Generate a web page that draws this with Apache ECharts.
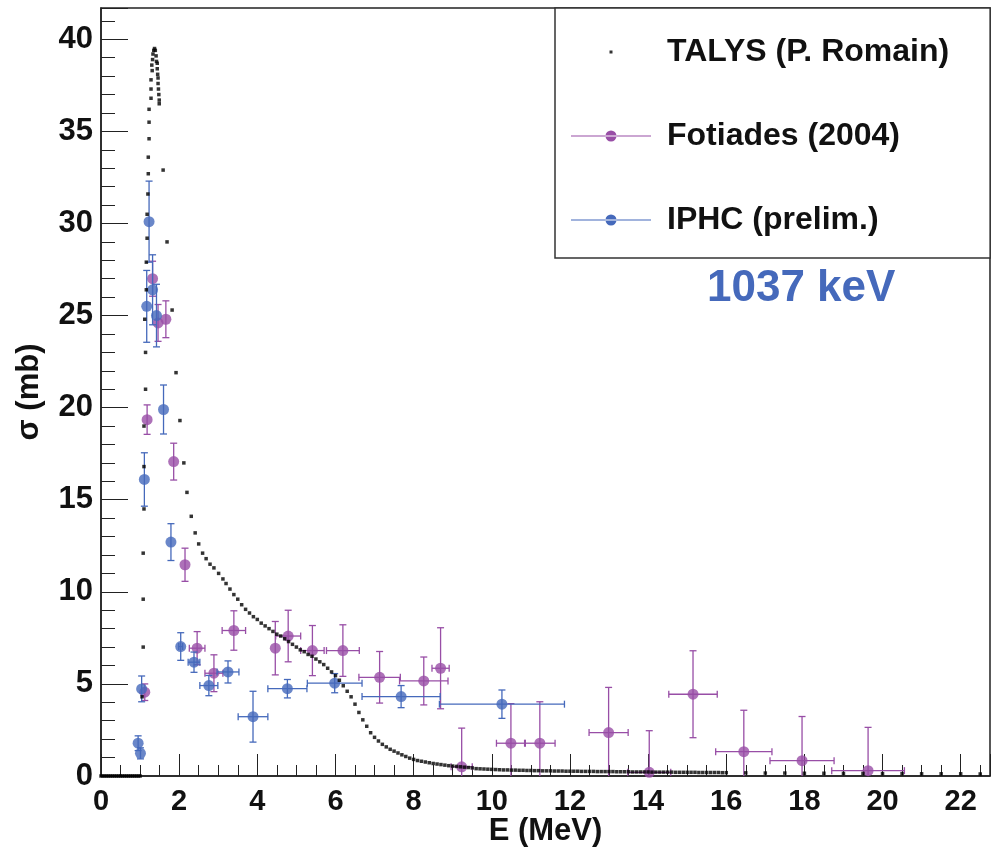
<!DOCTYPE html>
<html lang="en">

<head>
    <meta charset="UTF-8">
    <title>1037 keV</title>
    <style>
        body,
        html {
            margin: 0;
            height: 100%;
            overflow: hidden;
            background: #fff;
        }

        #main {
            width: 991px;
            height: 848px;
        }
    </style>
</head>

<body>
    <div id="main"></div>
    <script src="https://cdn.jsdelivr.net/npm/echarts@6/dist/echarts.min.js"></script>
    <script type="text/javascript">
        // TALYS (P. Romain): [E (MeV), sigma (mb)]
        const talysLow = [
            [0, 0], [0.05, 0], [0.1, 0], [0.15, 0], [0.2, 0], [0.25, 0], [0.3, 0], [0.35, 0], [0.4, 0], [0.45, 0],
            [0.5, 0], [0.55, 0], [0.6, 0], [0.65, 0], [0.7, 0], [0.75, 0], [0.8, 0], [0.85, 0], [0.9, 0], [0.95, 0], [1.0, 0]
        ]
        const talysPeak = [
            [1.05, 4.3], [1.08, 7.0], [1.08, 9.6], [1.08, 12.1], [1.10, 14.5], [1.10, 16.8], [1.10, 19.0], [1.14, 21.0],
            [1.14, 23.0], [1.12, 24.8], [1.16, 26.4], [1.16, 27.9], [1.18, 29.2], [1.18, 30.5], [1.20, 31.6], [1.21, 32.7],
            [1.21, 33.6], [1.23, 34.6], [1.23, 35.5], [1.23, 36.2], [1.28, 36.8], [1.28, 37.3], [1.28, 37.8], [1.31, 38.3],
            [1.30, 38.6], [1.32, 38.9], [1.33, 39.2], [1.35, 39.4], [1.37, 39.5], [1.39, 39.4], [1.41, 39.1], [1.42, 38.8],
            [1.44, 38.7], [1.44, 38.4], [1.45, 38.1], [1.46, 37.9], [1.46, 37.6], [1.47, 37.3], [1.48, 37.0], [1.49, 36.7],
            [1.49, 36.5], [1.59, 32.9], [1.69, 29.0], [1.82, 25.3], [1.92, 21.9], [2.02, 19.3], [2.12, 17.0], [2.20, 15.4],
            [2.31, 14.1], [2.41, 13.2], [2.50, 12.6], [2.60, 12.1], [2.69, 11.8], [2.79, 11.5], [2.89, 11.3], [3.01, 11.0],
            [3.12, 10.7]
        ]
        const talysFall = [
            [3.2, 10.45], [3.3, 10.15], [3.4, 9.85], [3.5, 9.6], [3.6, 9.3], [3.7, 9.05], [3.8, 8.85], [3.9, 8.65],
            [4.0, 8.5], [4.1, 8.3], [4.2, 8.15], [4.3, 8.0], [4.4, 7.85], [4.5, 7.7], [4.6, 7.6], [4.7, 7.45],
            [4.8, 7.3], [4.9, 7.15], [5.0, 7.0], [5.1, 6.85], [5.2, 6.75], [5.3, 6.6], [5.4, 6.5], [5.5, 6.35],
            [5.6, 6.2], [5.7, 6.05], [5.8, 5.85], [5.9, 5.65], [6.0, 5.45], [6.1, 5.2], [6.2, 4.9], [6.3, 4.6],
            [6.4, 4.3], [6.5, 3.9], [6.6, 3.45], [6.7, 3.05], [6.8, 2.7], [6.9, 2.35], [7.0, 2.1], [7.1, 1.9],
            [7.2, 1.72], [7.3, 1.58], [7.4, 1.45], [7.5, 1.35], [7.6, 1.25], [7.7, 1.15], [7.8, 1.06], [7.9, 0.97],
            [8.0, 0.9], [8.1, 0.84], [8.2, 0.8], [8.3, 0.76], [8.4, 0.72], [8.5, 0.68], [8.6, 0.65], [8.7, 0.62],
            [8.8, 0.59], [8.9, 0.56], [9.0, 0.54], [9.1, 0.52], [9.2, 0.5], [9.3, 0.48], [9.4, 0.46], [9.5, 0.44]
        ]
        const talysFlat = [
            [9.6, .40], [9.7, .39], [9.8, .38], [9.9, .37], [10.0, .36], [10.1, .35], [10.2, .34], [10.3, .33],
            [10.4, .33], [10.5, .32], [10.6, .32], [10.7, .31], [10.8, .31], [10.9, .30], [11.0, .30], [11.1, .29],
            [11.2, .29], [11.3, .28], [11.4, .28], [11.5, .28], [11.6, .27], [11.7, .27], [11.8, .27], [11.9, .26],
            [12.0, .26], [12.1, .26], [12.2, .26], [12.3, .25], [12.4, .25], [12.5, .25], [12.6, .25], [12.7, .24],
            [12.8, .24], [12.9, .24], [13.0, .24], [13.1, .24], [13.2, .23], [13.3, .23], [13.4, .23], [13.5, .23],
            [13.6, .22], [13.7, .22], [13.8, .22], [13.9, .22], [14.0, .22], [14.1, .21], [14.2, .21], [14.3, .21],
            [14.4, .21], [14.5, .21], [14.6, .21], [14.7, .20], [14.8, .20], [14.9, .20], [15.0, .20], [15.1, .20],
            [15.2, .20], [15.3, .19], [15.4, .19], [15.5, .19], [15.6, .19], [15.7, .19], [15.8, .19], [15.9, .18],
            [16.0, .18]
        ]
        const talysTail = [
            [16.5, .17], [17.0, .16], [17.5, .16], [18.0, .15], [18.5, .15], [19.0, .14], [19.5, .14],
            [20.0, .13], [20.5, .13], [21.0, .12], [21.5, .12], [22.0, .12], [22.5, .11]
        ]

        // Fotiades (2004)
        const fotE = [1.12, 1.18, 1.32, 1.46, 1.66, 1.86, 2.15, 2.46, 2.89, 3.40, 4.46, 4.79, 5.41, 6.19, 7.13, 8.26, 8.69, 9.23, 10.49, 11.23, 12.99, 14.03, 15.15, 16.45, 17.94, 19.63]
        const fotSig = [4.55, 19.35, 27.0, 24.6, 24.8, 17.07, 11.47, 6.94, 5.58, 7.9, 6.94, 7.6, 6.81, 6.81, 5.36, 5.16, 5.85, 0.5, 1.78, 1.78, 2.36, 0.2, 4.44, 1.32, 0.83, 0.29]
        const fotErrE = [0, 0, 0, 0, 0, 0, 0, 0.2, 0.23, 0.3, 0, 0.32, 0.3, 0.42, 0.53, 0.62, 0.22, 0.27, 0.37, 0.39, 0.5, 0.55, 0.62, 0.72, 0.82, 0.93]
        const fotErrSig = [0.45, 0.8, 0.95, 1.0, 1.0, 1.0, 0.9, 0.9, 1.0, 1.07, 1.45, 1.4, 1.36, 1.4, 1.4, 1.3, 2.2, 2.1, 2.15, 2.25, 2.45, 2.26, 2.36, 2.25, 2.4, 2.35]

        // IPHC (prelim.)
        const iphcE = [0.95, 1.01, 1.04, 1.11, 1.17, 1.23, 1.32, 1.42, 1.60, 1.79, 2.04, 2.38, 2.76, 3.25, 3.89, 4.77, 5.98, 7.68, 10.26]
        const iphcSig = [1.78, 1.23, 4.73, 16.1, 25.5, 30.1, 26.4, 25.0, 19.9, 12.7, 7.03, 6.18, 4.91, 5.65, 3.22, 4.74, 5.04, 4.31, 3.9]
        const iphcErrE = [0, 0, 0, 0, 0, 0, 0, 0, 0, 0, 0.05, 0.15, 0.23, 0.28, 0.38, 0.5, 0.7, 1.0, 1.6]
        const iphcErrSig = [0.4, 0.3, 0.7, 1.45, 1.95, 2.2, 1.9, 1.7, 1.33, 1.0, 0.75, 0.55, 0.55, 0.6, 1.38, 0.5, 0.52, 0.6, 0.77]

        const purple = '#984ea6'
        const blue = '#4569bb'
        const font = '"Liberation Sans", Arial, sans-serif'

        const talysData = talysLow.concat(talysPeak, talysFall, talysFlat, talysTail)
        const fotData = fotE.map((e, i) => [e, fotSig[i], fotErrE[i], fotErrSig[i]])
        const iphcData = iphcE.map((e, i) => [e, iphcSig[i], iphcErrE[i], iphcErrSig[i]])

        // error bars (vertical + horizontal, with small caps)
        function errorBars(params, api) {
            const x = api.value(0), y = api.value(1), dx = api.value(2), dy = api.value(3)
            const c = api.coord([x, y])
            const lo = api.coord([x, y - dy])
            const hi = api.coord([x, y + dy])
            const cap = 3.5
            const style = { stroke: api.visual('color'), lineWidth: 1.3 }
            const children = [
                { type: 'line', shape: { x1: c[0], y1: lo[1], x2: c[0], y2: hi[1] }, style: style },
                { type: 'line', shape: { x1: c[0] - cap, y1: lo[1], x2: c[0] + cap, y2: lo[1] }, style: style },
                { type: 'line', shape: { x1: c[0] - cap, y1: hi[1], x2: c[0] + cap, y2: hi[1] }, style: style }
            ]
            if (dx > 0) {
                const l = api.coord([x - dx, y])
                const r = api.coord([x + dx, y])
                children.push(
                    { type: 'line', shape: { x1: l[0], y1: c[1], x2: r[0], y2: c[1] }, style: style },
                    { type: 'line', shape: { x1: l[0], y1: c[1] - cap, x2: l[0], y2: c[1] + cap }, style: style },
                    { type: 'line', shape: { x1: r[0], y1: c[1] - cap, x2: r[0], y2: c[1] + cap }, style: style }
                )
            }
            return { type: 'group', children: children }
        }

        var myChart = echarts.init(document.getElementById('main'));

        // legend icons: 91 px wide box, line drawn over the first 80 px so the text starts further right
        const dotIcon = 'path://M0,0M91,12M38.5,4.5h3v3h-3z'
        const lineDotIcon = 'path://M0,0M91,12M0,5.5h80v1h-80zM34.5,6a5.5,5.5 0 1,0 11,0a5.5,5.5 0 1,0 -11,0z'

        var option = {
            animation: false,
            title: {
                text: '1037 keV',
                left: 707,
                top: 267,
                padding: 0,
                textStyle: { color: blue, fontFamily: font, fontWeight: 'bold', fontSize: 44 }
            },
            legend: {
                orient: 'vertical',
                left: 555,
                top: 8,
                padding: [28, 41, 22, 16],
                itemWidth: 91,
                itemHeight: 12,
                itemGap: 52,
                selectedMode: false,
                backgroundColor: '#fff',
                borderColor: '#333',
                borderWidth: 1.5,
                borderRadius: 0,
                textStyle: { color: '#111', fontFamily: font, fontWeight: 'bold', fontSize: 32 },
                data: [
                    { name: 'TALYS (P. Romain)', icon: dotIcon },
                    { name: 'Fotiades (2004)', icon: lineDotIcon },
                    { name: 'IPHC (prelim.)', icon: lineDotIcon }
                ]
            },
            grid: {
                left: 101,
                top: 8,
                right: 1,
                bottom: 72,
                outerBoundsMode: 'none',
                show: true,
                borderColor: '#222',
                borderWidth: 1.5
            },
            xAxis: {
                type: 'value',
                min: 0,
                max: 22.75,
                interval: 2,
                name: 'E (MeV)',
                nameLocation: 'middle',
                nameGap: 40,
                nameMoveOverlap: false,
                nameTextStyle: { color: '#111', fontFamily: font, fontWeight: 'bold', fontSize: 31 },
                axisLine: { lineStyle: { color: '#222', width: 1.5 } },
                axisTick: { inside: true, length: 22, lineStyle: { color: '#222' } },
                minorTick: { show: true, splitNumber: 4, length: 11, lineStyle: { color: '#222' } },
                axisLabel: { color: '#111', fontFamily: font, fontWeight: 'bold', fontSize: 29, margin: 11, showMaxLabel: false },
                splitLine: { show: false }
            },
            yAxis: {
                type: 'value',
                min: 0,
                max: 41.7,
                interval: 5,
                name: 'σ (mb)',
                nameLocation: 'middle',
                nameGap: 56,
                nameRotate: 90,
                nameMoveOverlap: false,
                nameTextStyle: { color: '#111', fontFamily: font, fontWeight: 'bold', fontSize: 31 },
                axisLine: { lineStyle: { color: '#222', width: 1.5 } },
                axisTick: { inside: true, length: 27, lineStyle: { color: '#222' } },
                minorTick: { show: true, splitNumber: 5, length: 14, lineStyle: { color: '#222' } },
                axisLabel: { color: '#111', fontFamily: font, fontWeight: 'bold', fontSize: 31, margin: 8, showMaxLabel: false },
                splitLine: { show: false }
            },
            series: [
                {
                    name: 'Fotiades (2004)',
                    type: 'custom',
                    renderItem: errorBars,
                    clip: true,
                    itemStyle: { color: purple },
                    data: fotData,
                    z: 2
                },
                {
                    name: 'Fotiades (2004)',
                    type: 'scatter',
                    symbol: 'circle',
                    symbolSize: 11,
                    itemStyle: { color: purple },
                    data: fotData,
                    z: 3
                },
                {
                    name: 'IPHC (prelim.)',
                    type: 'custom',
                    renderItem: errorBars,
                    clip: true,
                    itemStyle: { color: blue },
                    data: iphcData,
                    z: 4
                },
                {
                    name: 'IPHC (prelim.)',
                    type: 'scatter',
                    symbol: 'circle',
                    symbolSize: 11,
                    itemStyle: { color: blue },
                    data: iphcData,
                    z: 5
                },
                {
                    name: 'TALYS (P. Romain)',
                    type: 'scatter',
                    symbol: 'rect',
                    symbolSize: 3.5,
                    itemStyle: { color: '#000' },
                    data: talysData,
                    z: 6
                }
            ]
        };
        myChart.setOption(option);
    </script>
</body>

</html>
